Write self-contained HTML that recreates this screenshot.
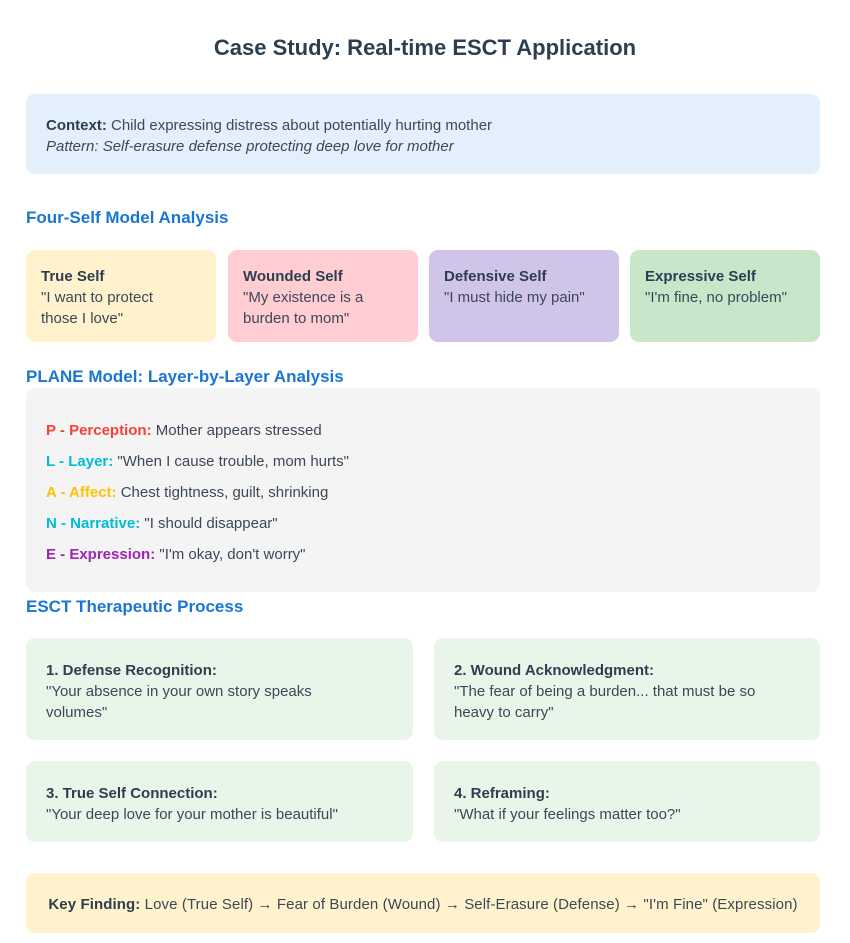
<!DOCTYPE html>
<html><head><meta charset="utf-8"><style>
*{margin:0;padding:0;box-sizing:border-box}
body{width:850px;height:943px;background:#fff;font-family:"Liberation Sans",sans-serif;color:#3c4858;position:relative;overflow:hidden}
.a{position:absolute}
.box{position:absolute;border-radius:9px}
h1{position:absolute;left:0;width:850px;top:35px;text-align:center;font-size:22px;color:#2c3e50;font-weight:bold}
h2{position:absolute;left:26px;font-size:17px;color:#1976d2;font-weight:bold}
.t{font-size:15px;line-height:21px}
b{color:#2c3e50}
.card{position:absolute;border-radius:9px;padding:16px 15px;font-size:15px;line-height:21px}
</style></head><body>
<h1>Case Study: Real-time ESCT Application</h1>
<div class="box" style="left:26px;top:94px;width:794px;height:80px;background:#e3f0fb"></div>
<div class="a t" style="left:46px;top:115px"><b>Context:</b> Child expressing distress about potentially hurting mother</div>
<div class="a t" style="left:46px;top:136px;font-style:italic">Pattern: Self-erasure defense protecting deep love for mother</div>

<h2 style="top:208px">Four-Self Model Analysis</h2>
<div class="card" style="left:26px;top:250px;width:190px;height:92px;background:#fff2cc;padding-right:40px"><b>True Self</b><br>"I want to protect those I love"</div>
<div class="card" style="left:228px;top:250px;width:190px;height:92px;background:#ffcdd2"><b>Wounded Self</b><br>"My existence is a burden to mom"</div>
<div class="card" style="left:429px;top:250px;width:190px;height:92px;background:#d1c4e9"><b>Defensive Self</b><br>"I must hide my pain"</div>
<div class="card" style="left:630px;top:250px;width:190px;height:92px;background:#c8e6c9"><b>Expressive Self</b><br>"I'm fine, no problem"</div>

<h2 style="top:367px">PLANE Model: Layer-by-Layer Analysis</h2>
<div class="box" style="left:26px;top:388px;width:794px;height:204px;background:#f4f4f4"></div>
<div class="a t" style="left:46px;top:420px"><b style="color:#f44336">P - Perception:</b> Mother appears stressed</div>
<div class="a t" style="left:46px;top:451px"><b style="color:#00bcd4">L - Layer:</b> "When I cause trouble, mom hurts"</div>
<div class="a t" style="left:46px;top:482px"><b style="color:#ffc107">A - Affect:</b> Chest tightness, guilt, shrinking</div>
<div class="a t" style="left:46px;top:513px"><b style="color:#00bcd4">N - Narrative:</b> "I should disappear"</div>
<div class="a t" style="left:46px;top:544px"><b style="color:#9c27b0">E - Expression:</b> "I'm okay, don't worry"</div>

<h2 style="top:597px">ESCT Therapeutic Process</h2>
<div class="card" style="left:26px;top:638px;width:387px;height:102px;background:#e8f5e9;padding:22px 80px 22px 20px"><b>1. Defense Recognition:</b><br>"Your absence in your own story speaks volumes"</div>
<div class="card" style="left:434px;top:638px;width:386px;height:102px;background:#e8f5e9;padding:22px 50px 22px 20px"><b>2. Wound Acknowledgment:</b><br>"The fear of being a burden... that must be so heavy to carry"</div>
<div class="card" style="left:26px;top:761px;width:387px;height:81px;background:#e8f5e9;padding:22px 20px"><b>3. True Self Connection:</b><br>"Your deep love for your mother is beautiful"</div>
<div class="card" style="left:434px;top:761px;width:386px;height:81px;background:#e8f5e9;padding:22px 20px"><b>4. Reframing:</b><br>"What if your feelings matter too?"</div>

<div class="box" style="left:26px;top:873px;width:794px;height:60px;background:#fff2cc"></div>
<div class="a" style="left:26px;top:894px;width:794px;text-align:center;font-size:15px;line-height:21px;letter-spacing:0.1px;white-space:nowrap"><b>Key Finding:</b> Love (True Self) → Fear of Burden (Wound) → Self-Erasure (Defense) → "I'm Fine" (Expression)</div>
</body></html>
